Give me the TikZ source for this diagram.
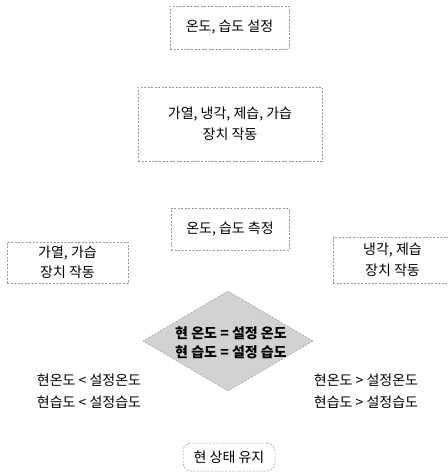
\documentclass[tikz,border=0pt]{standalone}
\usepackage{fontspec}
\setmainfont{Noto Sans CJK KR}
\usetikzlibrary{shapes.geometric}
\begin{document}
\begin{tikzpicture}[x=1pt,y=-1pt,
  box/.style={draw=gray!80, line width=0.5pt, dash pattern=on 2pt off 1.5pt, inner sep=0pt, font=\fontsize{14}{20.5}\selectfont, align=center},
  lbl/.style={font=\fontsize{14}{22}\selectfont, align=center},
  ]
\useasboundingbox (0,0) rectangle (448,475);
\node[box, minimum width=119, minimum height=43] (set) at (229.5,27.5) {온도, 습도 설정};
\node[box, minimum width=184, minimum height=74] (act) at (230,124) {가열, 냉각, 제습, 가습\\장치 작동};
\node[box, minimum width=118, minimum height=42] (meas) at (230,229) {온도, 습도 측정};
\node[box, minimum width=121, minimum height=41] (heat) at (67.5,262.5) {가열, 가습\\장치 작동};
\node[box, minimum width=119, minimum height=46] (cool) at (392.5,260) {냉각, 제습\\장치 작동};
\node[diamond, draw=gray!80, line width=0.5pt, dash pattern=on 2pt off 1.5pt, fill=gray!35, minimum width=170, minimum height=100, inner sep=0pt, aspect=1.7] (cmp) at (228,341) {};
\node[lbl, font=\bfseries\fontsize{14}{19.5}\selectfont] (cmpt) at (231,342.5) {현 온도 = 설정 온도\\현 습도 = 설정 습도};
\node[lbl] (low) at (89,391) {현온도 < 설정온도\\현습도 < 설정습도};
\node[lbl] (high) at (366,391) {현온도 > 설정온도\\현습도 > 설정습도};
\node[box, rounded corners=8pt, minimum width=92, minimum height=28] (keep) at (229,457) {현 상태 유지};
\end{tikzpicture}
\end{document}
